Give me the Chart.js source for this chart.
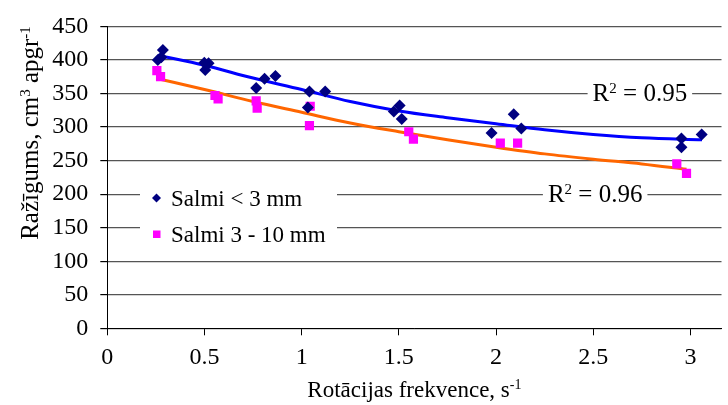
<!DOCTYPE html>
<html>
<head>
<meta charset="utf-8">
<script src="https://cdn.jsdelivr.net/npm/chart.js@4.4.1/dist/chart.umd.min.js"></script>
<style>
    html, body { margin: 0; padding: 0; background: #fff; }
</style>
</head>
<body>
<canvas id="grafico" width="728" height="405"></canvas>
<script>
// Salmi < 3 mm (diamonds)
const salmiMazieX = [0.260, 0.278, 0.286, 0.499, 0.504, 0.521, 0.766, 0.809, 0.865, 1.032, 1.040, 1.121, 1.474, 1.504, 1.515, 1.977, 2.091, 2.130, 2.954, 2.954, 3.058];
const salmiMazieY = [400, 404, 415, 396, 385, 395, 358, 372, 376, 329, 353, 353, 323, 332, 312, 291, 319, 298, 283, 270, 289];

// Salmi 3 - 10 mm (squares)
const salmiLieliX = [0.255, 0.274, 0.554, 0.570, 0.766, 0.771, 1.040, 1.044, 1.551, 1.575, 2.022, 2.111, 2.930, 2.980];
const salmiLieliY = [384, 375, 347, 342, 339, 328, 302, 331, 293, 282, 276, 276, 245, 231];

// trend lines
const trendsMazieX = [0.26, 0.5, 0.75, 1.0, 1.25, 1.5, 1.75, 2.0, 2.25, 2.5, 2.75, 3.06];
const trendsMazieY = [407, 392, 373, 356, 338, 324, 314, 305, 296, 289, 284, 281];
const trendsLieliX = [0.26, 0.5, 0.75, 1.0, 1.25, 1.5, 1.75, 2.0, 2.25, 2.5, 2.75, 2.98];
const trendsLieliY = [372, 356, 338, 322, 306, 293, 281, 270, 260, 252, 245, 237];

const nosaukumi = ['Salmi < 3 mm', 'Salmi 3 - 10 mm'];
const r2Vertibas = ['0.95', '0.96'];
const xTicks = [0, 0.5, 1, 1.5, 2, 2.5, 3];
const yTicks = [0, 50, 100, 150, 200, 250, 300, 350, 400, 450];

const FONTS = 'Liberation Serif';

function punkti(xs, ys) {
    return xs.map((x, i) => ({ x: x, y: ys[i] }));
}

// text with superscripts: partes = [[text, isSup], ...]
function platums(ctx, partes, izmers) {
    let w = 0;
    for (const p of partes) {
        ctx.font = (p[1] ? Math.round(izmers * 0.6) : izmers) + 'px ' + FONTS;
        w += ctx.measureText(p[0]).width;
    }
    return w;
}

function rakstit(ctx, partes, x, y, izmers) {
    let cx = x;
    for (const p of partes) {
        ctx.font = (p[1] ? Math.round(izmers * 0.6) : izmers) + 'px ' + FONTS;
        ctx.fillText(p[0], cx, p[1] ? y - izmers * 0.34 : y);
        cx += ctx.measureText(p[0]).width;
    }
}

const teksti = {
    id: 'teksti',
    afterDraw(chart) {
        const ctx = chart.ctx;
        const sx = chart.scales.x;
        const sy = chart.scales.y;
        ctx.save();
        ctx.fillStyle = '#000';
        ctx.textAlign = 'left';
        ctx.textBaseline = 'alphabetic';

        // R2 labels on white boxes
        const r2Vietas = [[2.74, 350], [2.51, 200]];
        r2Vietas.forEach((v, i) => {
            const partes = [['R', false], ['2', true], [' = ' + r2Vertibas[i], false]];
            const w = platums(ctx, partes, 25);
            const cx = sx.getPixelForValue(v[0]);
            const cy = sy.getPixelForValue(v[1]);
            ctx.fillStyle = '#fff';
            ctx.fillRect(cx - w / 2 - 5, cy - 13, w + 10, 26);
            ctx.fillStyle = '#000';
            rakstit(ctx, partes, cx - w / 2, cy + 8, 25);
        });

        // legend
        ctx.fillStyle = '#fff';
        ctx.fillRect(140, 175, 197, 74);
        ctx.fillStyle = '#000080';
        ctx.beginPath();
        ctx.moveTo(152, 198); ctx.lineTo(156.5, 193.5); ctx.lineTo(161, 198); ctx.lineTo(156.5, 202.5);
        ctx.closePath();
        ctx.fill();
        ctx.fillStyle = '#ff00ff';
        ctx.fillRect(153, 230.5, 7.5, 7.5);
        ctx.fillStyle = '#000';
        ctx.font = '23px ' + FONTS;
        ctx.fillText(nosaukumi[0], 171, 206);
        ctx.fillText(nosaukumi[1], 171, 242);

        // x title
        const xt = [['Rotācijas frekvence, s', false], ['-1', true]];
        const xw = platums(ctx, xt, 23);
        rakstit(ctx, xt, (chart.chartArea.left + chart.chartArea.right) / 2 - xw / 2, 397, 23);

        // y title
        const yt = [['Ražīgums, cm', false], ['3', true], [' apgr', false], ['-1', true]];
        const yw = platums(ctx, yt, 25);
        ctx.translate(38, 133);
        ctx.rotate(-Math.PI / 2);
        rakstit(ctx, yt, -yw / 2, 0, 25);
        ctx.restore();
    }
};

const config = {
    type: 'scatter',
    data: {
        datasets: [{
            label: nosaukumi[0],
            data: punkti(salmiMazieX, salmiMazieY),
            pointStyle: 'rectRot',
            pointRadius: 6,
            pointBackgroundColor: '#000080',
            pointBorderWidth: 0,
            showLine: false
        }, {
            label: nosaukumi[1],
            data: punkti(salmiLieliX, salmiLieliY),
            pointStyle: 'rect',
            pointRadius: 6.5,
            pointBackgroundColor: '#ff00ff',
            pointBorderWidth: 0,
            showLine: false
        }, {
            label: 'trend1',
            data: punkti(trendsMazieX, trendsMazieY),
            showLine: true,
            borderColor: '#0000ff',
            borderWidth: 3,
            pointRadius: 0,
            cubicInterpolationMode: 'monotone'
        }, {
            label: 'trend2',
            data: punkti(trendsLieliX, trendsLieliY),
            showLine: true,
            borderColor: '#ff6600',
            borderWidth: 3,
            pointRadius: 0,
            cubicInterpolationMode: 'monotone'
        }]
    },
    options: {
        responsive: false,
        animation: false,
        layout: { padding: { top: 20, left: 0, right: 0, bottom: 0 } },
        plugins: {
            legend: { display: false },
            tooltip: { enabled: false }
        },
        scales: {
            x: {
                type: 'linear',
                min: 0,
                max: 3.16,
                afterBuildTicks: (s) => { s.ticks = xTicks.map(v => ({ value: v })); },
                afterFit: (s) => { s.height = 405 - 328.3; },
                ticks: {
                    color: '#000',
                    font: { family: FONTS, size: 24 },
                    padding: 8,
                    maxRotation: 0,
                    autoSkip: false,
                    callback: (value) => String(value)
                },
                grid: {
                    drawOnChartArea: false,
                    drawTicks: true,
                    tickLength: 7,
                    tickColor: '#000'
                },
                border: { color: '#000', width: 1 }
            },
            y: {
                min: 0,
                max: 450,
                afterBuildTicks: (s) => { s.ticks = yTicks.map(v => ({ value: v })); },
                afterFit: (s) => { s.width = 107.3; },
                ticks: {
                    color: '#000',
                    font: { family: FONTS, size: 24 },
                    padding: 12,
                    callback: (value) => String(value)
                },
                grid: {
                    color: '#555',
                    lineWidth: 1.2,
                    drawTicks: true,
                    tickLength: 7,
                    tickColor: '#000'
                },
                border: { color: '#000', width: 1 }
            }
        }
    },
    plugins: [teksti]
};

const myChart = new Chart(document.getElementById('grafico'), config);
</script>
</body>
</html>
